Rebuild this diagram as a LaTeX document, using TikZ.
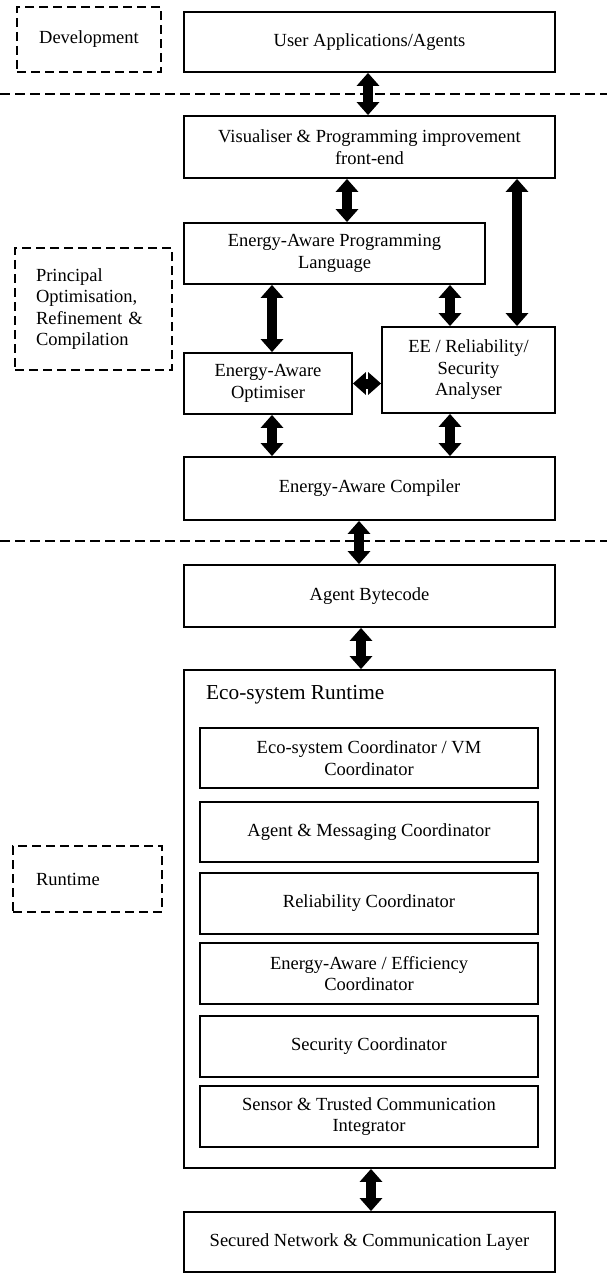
\documentclass[tikz,border=0pt]{standalone}
\usepackage{fontspec}
\setmainfont{Liberation Serif}
\usetikzlibrary{arrows.meta}
\newcommand\bodyfont{\fontsize{18.5}{21.5}\selectfont}
\newcommand\titlefont{\fontsize{21.3}{24}\selectfont}
\tikzset{
  box/.style={draw, line width=1.8pt, inner sep=0pt, align=center, font=\bodyfont},
  dbox/.style={draw, line width=2pt, dash pattern=on 9pt off 5pt, inner sep=0pt, font=\bodyfont},
  dline/.style={line width=2pt, dash pattern=on 10pt off 5pt},
  dbl/.style={line width=10pt, {Triangle[width=22pt,length=13pt]}-{Triangle[width=22pt,length=13pt]}}
}
\begin{document}
\begin{tikzpicture}[x=1pt,y=-1pt]
\useasboundingbox (0,0) rectangle (607,1273);
% section labels
\node[dbox, minimum width=144, minimum height=65, align=center] (dev) at (89,39.5) {Development};
\node[dbox, minimum width=157, minimum height=122, text width=115, inner xsep=21pt, align=left] (prin) at (93.5,309) {Principal\\Optimisation,\\Refinement \&\\Compilation};
\node[dbox, minimum width=149, minimum height=66, text width=103, inner xsep=23pt, align=left] (run) at (87.5,879) {Runtime};
% separators
\coordinate (l1a) at (0,94); \coordinate (l1b) at (607,94);
\coordinate (l2a) at (0,541); \coordinate (l2b) at (607,541);
\draw[dline] (l1a) -- (l1b);
\draw[dline] (l2a) -- (l2b);
% boxes
\node[box, minimum width=371, minimum height=60] (usr) at (369.5,42) {User Applications/Agents};
\node[box, minimum width=371, minimum height=62] (vis) at (369.5,147) {Visualiser \& Programming improvement\\front-end};
\node[box, minimum width=301, minimum height=61] (eapl) at (334.5,253.5) {Energy-Aware Programming\\Language};
\node[box, minimum width=168, minimum height=61] (opt) at (268,383.5) {Energy-Aware\\Optimiser};
\node[box, minimum width=173, minimum height=86] (ana) at (468.5,370) {EE / Reliability/\\Security\\Analyser};
\node[box, minimum width=371, minimum height=63] (comp) at (369.5,488.5) {Energy-Aware Compiler};
\node[box, minimum width=371, minimum height=62] (agb) at (369.5,596) {Agent Bytecode};
\node[box, minimum width=371, minimum height=498] (eco) at (369.5,919) {};
\node[anchor=west, inner sep=0pt, font=\titlefont] (ecot) at (206,695) {Eco-system Runtime};
\node[box, minimum width=338, minimum height=60] (c1) at (369,758) {Eco-system Coordinator / VM\\Coordinator};
\node[box, minimum width=338, minimum height=60] (c2) at (369,832) {Agent \& Messaging Coordinator};
\node[box, minimum width=338, minimum height=61] (c3) at (369,903.5) {Reliability Coordinator};
\node[box, minimum width=338, minimum height=61] (c4) at (369,973.5) {Energy-Aware / Efficiency\\Coordinator};
\node[box, minimum width=338, minimum height=61] (c5) at (369,1046.5) {Security Coordinator};
\node[box, minimum width=338, minimum height=61] (c6) at (369,1116.5) {Sensor \& Trusted Communication\\Integrator};
\node[box, minimum width=371, minimum height=60] (sec) at (369.5,1242) {Secured Network \& Communication Layer};
% x positions of connectors
\coordinate (xa) at (347,0);
\coordinate (xb) at (517,0);
\coordinate (xc) at (272,0);
\coordinate (xd) at (450,0);
\coordinate (xe) at (359,0);
\coordinate (xf) at (361,0);
\coordinate (xg) at (371,0);
\coordinate (xh) at (368,0);
% connectors
\draw[dbl] (usr.south -| xh) -- (vis.north -| xh);
\draw[dbl] (vis.south -| xa) -- (eapl.north -| xa);
\draw[dbl] (vis.south -| xb) -- (ana.north -| xb);
\draw[dbl] (eapl.south -| xc) -- (opt.north -| xc);
\draw[dbl] (eapl.south -| xd) -- (ana.north -| xd);
\draw[dbl] (opt.east) -- (opt.east -| ana.west);
\draw[dbl] (opt.south -| xc) -- (comp.north -| xc);
\draw[dbl] (ana.south -| xd) -- (comp.north -| xd);
\draw[dbl] (comp.south -| xe) -- (agb.north -| xe);
\draw[dbl] (agb.south -| xf) -- (eco.north -| xf);
\draw[dbl] (eco.south -| xg) -- (sec.north -| xg);
\end{tikzpicture}
\end{document}
